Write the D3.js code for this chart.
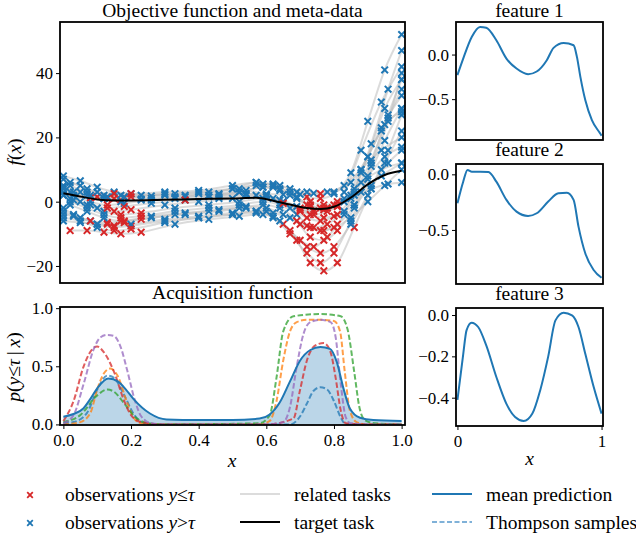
<!DOCTYPE html>
<html lang="en">
<head>
  <meta charset="UTF-8">
  <title>Objective function and meta-data</title>
  <script src="https://cdn.jsdelivr.net/npm/d3@7"></script>
  <style>
    body { margin: 0; background: #fff; }
    svg text { font-family: "Liberation Serif", "Times New Roman", serif; font-size: 19.5px; fill: #000; }
    svg .tick text { font-size: 17px; }
  </style>
</head>
<body>
<svg id="chart" width="636" height="534"></svg>
<script>
// ---- data ----
// observation x positions (three layouts shared by the related tasks)
const gridA = [0, 0.05, 0.1, 0.15, 0.2, 0.3, 0.4, 0.5, 0.57, 0.62, 0.67, 0.72, 0.76, 0.8, 0.85, 0.9, 0.95, 1.0];
const gridB = [0.02, 0.07, 0.12, 0.17, 0.23, 0.33, 0.43, 0.52, 0.59, 0.64, 0.69, 0.73, 0.77, 0.81, 0.86, 0.91, 0.96, 1.0];
const gridC = [0, 0.03, 0.08, 0.13, 0.18, 0.26, 0.36, 0.46, 0.54, 0.6, 0.65, 0.7, 0.74, 0.78, 0.83, 0.88, 0.94, 1.0];
const obsGrids = [gridA, gridB, gridC];

// related tasks: observed f(x) values on their grid
const relatedTasks = [
  [8, 6.5, 4.5, 3, 2.5, 2, 2.5, 4, 6, 5, 3, 1.5, 1, 2.5, 9, 25, 41, 52],
  [5, 3, 1, 0.5, 0.8, 1.5, 2, 3, 4.5, 3.5, 1, -1, -2, -1, 4, 18, 35, 47],
  [4, 2, 0, -1, -0.5, 0.5, 1.5, 2.5, 3.5, 2, 0, -2, -3, -2, 3, 16, 31, 42],
  [2, 0, -2, -3, -2.5, -1, 0, 1, 2, 1, -2, -5, -6, -4.5, 1, 14, 29, 38],
  [0, -2, -4, -5, -4.5, -3, -2, -1, 0, -1, -4, -8, -9, -7, -1, 12, 27, 38],
  [-2, -4, -6, -7, -6.5, -5, -4, -3, -2, -3, -7, -12, -14, -11, -4, 9, 23, 33],
  [-4, -5, -7, -8, -7.5, -6, -5, -4, -3, -5, -10, -16, -19, -16, -6, 7, 19, 29],
  [-9, -9, -9.5, -10, -9.5, -7, -5.5, -4.5, -4, -6, -12, -19, -21.5, -19, -8, 4, 16, 27],
  [3, 1.8, 1.2, 1.1, 1.3, 1.8, 2, 2.2, 2.5, 2.4, 2.2, 2.3, 2.6, 3, 5, 10, 16, 20],
  [5, 3, 1.5, 1, 1.5, 2.5, 3, 4, 5, 4.5, 2, -1, -2, -1, 2, 8, 14, 17],
  [1, -1, -3, -4, -3.5, -2, -1, 0, 1, 0.5, -1.5, -4, -5, -4, -1, 5, 12, 16],
  [-3, -4.5, -6, -6.5, -6, -4.5, -3.5, -2.5, -1.5, -2, -4, -7, -8, -7, -3, 3, 8, 12],
  [-6, -6.5, -7, -7.5, -7, -5.5, -4.5, -3.5, -3, -3.5, -5, -7.5, -9, -8, -5, 0, 5, 10],
  [6, 4, 2, 2, 2, 2.5, 3, 4, 5.5, 5, 3, 0, -1, 0, 2, 4, 5.5, 6],
  [2, 0.5, -1, -2, -1.5, -0.5, 0.5, 1.5, 2.5, 2, 0, -3, -4, -3, 0, 10, 22, 29],
  [7, 5, 3, 2.5, 2.5, 3, 3.5, 5, 6, 5.5, 4, 3, 2.5, 3, 6, 14, 24, 28],
  [-1, -3, -5, -6, -5.5, -4, -3, -2, -1, -2, -6, -11, -12, -9, -2, 11, 25, 40],
  [4.5, 3, 2, 1.5, 1.5, 1, 0.5, 1, 2, 1.5, -0.5, -2.5, -3, -2, 1, 6, 10, 12],
  [-5, -6, -8, -9, -8.5, -6.5, -5, -4, -3.5, -4.5, -9, -14, -16, -14, -7, 2, 12, 22],
  [3, 2, 1, 0, 0.5, 1, 1.5, 3, 4.5, 4, 1.5, -1.5, -2.5, -1.5, 3, 13, 26, 35]
];
const taskGridIndex = [0, 1, 2, 0, 1, 2, 0, 1, 2, 0, 1, 2, 0, 1, 2, 0, 1, 2, 0, 1];
const taskTau = [1.8, 0.6, -0.8, -2.2, -4.2, -6.2, -7.2, -8, 1.4, 1.5, -3.2, -5.8, -7.2, 1, -1.2, 2.6, -5.2, 0.8, -8.2, -0.2];

// target task
const targetX = [0, 0.05, 0.1, 0.15, 0.2, 0.3, 0.4, 0.5, 0.57, 0.62, 0.67, 0.72, 0.76, 0.8, 0.85, 0.9, 0.95, 1.0];
const targetY = [2.6, 1.6, 0.7, 0.4, 0.4, 0.6, 0.8, 1.0, 1.2, 0.3, -0.9, -2.0, -2.3, -1.6, 1.3, 5.4, 8.3, 9.6];

// acquisition function: mean prediction
const acqX = [0, 0.03, 0.059, 0.08, 0.1, 0.133, 0.163, 0.185, 0.207, 0.256, 0.305, 0.4, 0.5, 0.58, 0.61, 0.64, 0.67, 0.7, 0.73, 0.76, 0.788, 0.808, 0.828, 0.847, 0.877, 0.916, 1.0];
const acqMean = [0.066, 0.09, 0.137, 0.22, 0.31, 0.394, 0.366, 0.3, 0.22, 0.094, 0.043, 0.037, 0.037, 0.05, 0.085, 0.19, 0.37, 0.55, 0.64, 0.666, 0.65, 0.54, 0.31, 0.137, 0.057, 0.037, 0.03];

// Thompson samples
const tsBlueX = [0, 0.03, 0.07, 0.1, 0.13, 0.15, 0.18, 0.21, 0.24, 0.3, 0.6, 0.67, 0.7, 0.72, 0.74, 0.76, 0.78, 0.8, 0.82, 0.835, 0.9, 1];
const tsBlueY = [0.01, 0.02, 0.1, 0.3, 0.42, 0.4, 0.25, 0.08, 0.01, 0, 0, 0, 0.07, 0.18, 0.29, 0.32, 0.3, 0.2, 0.06, 0, 0, 0];
const tsOrangeX = [0, 0.05, 0.08, 0.1, 0.12, 0.138, 0.16, 0.187, 0.21, 0.23, 0.3, 0.58, 0.61, 0.63, 0.65, 0.67, 0.69, 0.72, 0.76, 0.8, 0.818, 0.832, 0.847, 0.867, 0.9, 1];
const tsOrangeY = [0, 0.02, 0.1, 0.3, 0.44, 0.48, 0.42, 0.2, 0.05, 0.01, 0, 0, 0.03, 0.2, 0.55, 0.8, 0.88, 0.9, 0.9, 0.89, 0.8, 0.45, 0.12, 0.02, 0, 0];
const tsGreenX = [0, 0.05, 0.1, 0.13, 0.15, 0.18, 0.21, 0.25, 0.3, 0.58, 0.61, 0.63, 0.65, 0.68, 0.76, 0.82, 0.84, 0.86, 0.875, 0.89, 0.92, 1];
const tsGreenY = [0.02, 0.08, 0.25, 0.3, 0.28, 0.18, 0.07, 0.01, 0, 0.01, 0.08, 0.4, 0.8, 0.93, 0.95, 0.93, 0.82, 0.45, 0.15, 0.04, 0.01, 0];
const tsRedX = [0, 0.03, 0.06, 0.09, 0.1, 0.12, 0.15, 0.18, 0.2, 0.23, 0.3, 0.6, 0.68, 0.7, 0.72, 0.745, 0.77, 0.79, 0.805, 0.82, 0.835, 0.9, 1];
const tsRedY = [0.03, 0.2, 0.5, 0.66, 0.67, 0.62, 0.45, 0.2, 0.08, 0.02, 0, 0, 0.05, 0.3, 0.55, 0.68, 0.7, 0.62, 0.4, 0.12, 0.01, 0, 0];
const tsPurpleX = [0, 0.03, 0.06, 0.09, 0.11, 0.13, 0.15, 0.17, 0.19, 0.21, 0.23, 0.26, 0.3, 0.6, 0.65, 0.67, 0.69, 0.71, 0.73, 0.76, 0.79, 0.805, 0.82, 0.835, 0.85, 0.9, 1];
const tsPurpleY = [0.01, 0.08, 0.35, 0.65, 0.75, 0.77, 0.76, 0.66, 0.45, 0.22, 0.07, 0.01, 0, 0, 0.02, 0.15, 0.5, 0.78, 0.88, 0.9, 0.88, 0.75, 0.35, 0.06, 0.01, 0, 0];

// meta-features
const feat1X = [0, 0.04, 0.1, 0.157, 0.2, 0.27, 0.34, 0.41, 0.49, 0.55, 0.62, 0.667, 0.737, 0.806, 0.829, 0.853, 0.887, 0.933, 0.99, 1.0];
const feat1Y = [-0.23, -0.045, 0.2, 0.31, 0.3, 0.16, -0.045, -0.157, -0.22, -0.19, -0.063, 0.075, 0.13, 0.104, -0.026, -0.25, -0.51, -0.735, -0.884, -0.91];
const feat2X = [0, 0.04, 0.07, 0.1, 0.157, 0.215, 0.27, 0.34, 0.41, 0.49, 0.55, 0.63, 0.7, 0.76, 0.806, 0.84, 0.887, 0.945, 1.0];
const feat2Y = [-0.26, -0.066, 0.04, 0.024, 0.024, 0.02, -0.066, -0.23, -0.335, -0.374, -0.35, -0.245, -0.17, -0.165, -0.23, -0.47, -0.71, -0.86, -0.93];
const feat3X = [0, 0.04, 0.063, 0.098, 0.144, 0.2, 0.27, 0.34, 0.4, 0.46, 0.52, 0.574, 0.63, 0.68, 0.737, 0.795, 0.84, 0.888, 0.946, 1.0];
const feat3Y = [-0.41, -0.19, -0.074, -0.037, -0.058, -0.147, -0.3, -0.43, -0.494, -0.513, -0.477, -0.365, -0.2, -0.026, 0.011, -0.002, -0.058, -0.19, -0.35, -0.477];

// ---- drawing ----
const RED = '#d62728', BLUE = '#1f77b4';
const svg = d3.select('#chart');
const xDomain = [-0.01, 1.01];
const fmt1 = d3.format('.1f');

function makePanel(id, left, top, width, height, yDomain) {
  let x = d3.scaleLinear().domain(xDomain).range([left, left + width]);
  let y = d3.scaleLinear().domain(yDomain).range([top + height, top]);
  svg.append('clipPath').attr('id', id)
    .append('rect').attr('x', left).attr('y', top).attr('width', width).attr('height', height);
  let g = svg.append('g').attr('clip-path', `url(#${id})`);
  return { x, y, g, left, top, width, height };
}

function frame(p) {
  svg.append('rect')
    .attr('x', p.left).attr('y', p.top)
    .attr('width', p.width).attr('height', p.height)
    .attr('fill', 'none').attr('stroke', '#000').attr('stroke-width', 1.8);
}

function yAxis(p, ticks, format) {
  let ax = svg.append('g')
    .attr('transform', `translate(${p.left},0)`)
    .call(d3.axisLeft(p.y).tickValues(ticks).tickSize(4).tickPadding(3).tickFormat(format));
  ax.select('.domain').remove();
  ax.attr('font-family', null).attr('font-size', null);
  ax.selectAll('line').attr('stroke-width', 1);
}

function xAxis(p, ticks, format) {
  let ax = svg.append('g')
    .attr('transform', `translate(0,${p.top + p.height})`)
    .call(d3.axisBottom(p.x).tickValues(ticks).tickSize(4).tickPadding(4).tickFormat(format));
  ax.select('.domain').remove();
  ax.attr('font-family', null).attr('font-size', null);
  ax.selectAll('line').attr('stroke-width', 1);
  ax.selectAll('text').attr('dy', '0.75em');
}

function title(p, txt, y) {
  svg.append('text')
    .attr('x', p.left + p.width / 2).attr('y', y)
    .attr('text-anchor', 'middle').text(txt);
}

const lineOf = (p) => d3.line().x(d => p.x(d[0])).y(d => p.y(d[1])).curve(d3.curveMonotoneX);
const pairs = (xs, ys) => xs.map((v, i) => [v, ys[i]]);

// main panel
let main = makePanel('clipMain', 60, 22, 345, 261, [-25.3, 55.9]);
let mainLine = lineOf(main);

relatedTasks.forEach((ys, t) => {
  let pts = pairs(obsGrids[taskGridIndex[t]], ys);
  main.g.append('path')
    .attr('d', mainLine(pts))
    .attr('fill', 'none')
    .attr('stroke', '#bdbdbd')
    .attr('stroke-opacity', 0.55)
    .attr('stroke-width', 2);
});
relatedTasks.forEach((ys, t) => {
  let pts = pairs(obsGrids[taskGridIndex[t]], ys);
  main.g.selectAll(null)
    .data(pts)
    .enter()
    .append('path')
    .attr('transform', d => `translate(${main.x(d[0])},${main.y(d[1])})`)
    .attr('d', 'M-3.3,-3.3L3.3,3.3M-3.3,3.3L3.3,-3.3')
    .attr('stroke', d => d[1] <= taskTau[t] ? RED : BLUE)
    .attr('stroke-width', 2);
});
main.g.append('path')
  .attr('d', mainLine(pairs(targetX, targetY)))
  .attr('fill', 'none').attr('stroke', '#000').attr('stroke-width', 2);
frame(main);
yAxis(main, [-20, 0, 20, 40], d3.format('d'));
title(main, 'Objective function and meta-data', 17);

let fLabel = svg.append('text')
  .attr('transform', 'translate(21,152) rotate(-90)')
  .attr('text-anchor', 'middle');
fLabel.append('tspan').attr('font-style', 'italic').text('f');
fLabel.append('tspan').text('(');
fLabel.append('tspan').attr('font-style', 'italic').text('x');
fLabel.append('tspan').text(')');

// acquisition panel
let acq = makePanel('clipAcq', 60, 307, 345, 118, [-0.005, 1.01]);
let acqLine = lineOf(acq);
let acqArea = d3.area()
  .x(d => acq.x(d[0])).y0(acq.y(0)).y1(d => acq.y(d[1]))
  .curve(d3.curveMonotoneX);

acq.g.append('path')
  .attr('d', acqArea(pairs(acqX, acqMean)))
  .attr('fill', BLUE).attr('fill-opacity', 0.3);

const samples = [
  [tsBlueX, tsBlueY, BLUE],
  [tsOrangeX, tsOrangeY, '#ff7f0e'],
  [tsGreenX, tsGreenY, '#2ca02c'],
  [tsRedX, tsRedY, RED],
  [tsPurpleX, tsPurpleY, '#9467bd']
];
samples.forEach(s => {
  acq.g.append('path')
    .attr('d', acqLine(pairs(s[0], s[1])))
    .attr('fill', 'none')
    .attr('stroke', s[2])
    .attr('stroke-opacity', 0.75)
    .attr('stroke-width', 2)
    .attr('stroke-dasharray', '5.5,2.5');
});
acq.g.append('path')
  .attr('d', acqLine(pairs(acqX, acqMean)))
  .attr('fill', 'none').attr('stroke', BLUE).attr('stroke-width', 2);
frame(acq);
yAxis(acq, [0, 0.5, 1.0], fmt1);
xAxis(acq, [0, 0.2, 0.4, 0.6, 0.8, 1.0], fmt1);
title(acq, 'Acquisition function', 299);

let pLabel = svg.append('text')
  .attr('transform', 'translate(20,367) rotate(-90)')
  .attr('text-anchor', 'middle');
pLabel.append('tspan').attr('font-style', 'italic').text('p');
pLabel.append('tspan').text('(');
pLabel.append('tspan').attr('font-style', 'italic').text('y');
pLabel.append('tspan').text('\u2264');
pLabel.append('tspan').attr('font-style', 'italic').text('\u03c4');
pLabel.append('tspan').text('\u2009|\u2009');
pLabel.append('tspan').attr('font-style', 'italic').text('x');
pLabel.append('tspan').text(')');

svg.append('text')
  .attr('x', 232).attr('y', 467)
  .attr('text-anchor', 'middle').attr('font-style', 'italic').text('x');

// feature panels
const featPanels = [
  ['clipF1', 22, 118, [-0.958, 0.365], feat1X, feat1Y, [0, -0.5], 'feature 1', 17],
  ['clipF2', 164, 120, [-0.986, 0.093], feat2X, feat2Y, [0, -0.5], 'feature 2', 156],
  ['clipF3', 308, 118, [-0.537, 0.034], feat3X, feat3Y, [0, -0.2, -0.4], 'feature 3', 300]
];
featPanels.forEach((f, i) => {
  let p = makePanel(f[0], 456, f[1], 147, f[2], f[3]);
  p.g.append('path')
    .attr('d', lineOf(p)(pairs(f[4], f[5])))
    .attr('fill', 'none').attr('stroke', BLUE).attr('stroke-width', 2);
  frame(p);
  yAxis(p, f[6], fmt1);
  title(p, f[7], f[8]);
  if (i === 2) {
    xAxis(p, [0, 1], d3.format('d'));
    svg.append('text')
      .attr('x', p.left + p.width / 2).attr('y', 465)
      .attr('text-anchor', 'middle').attr('font-style', 'italic').text('x');
  }
});

// legend
let leg = svg.append('g');
const markerPath = 'M-2.8,-2.8L2.8,2.8M-2.8,2.8L2.8,-2.8';
[[495, RED, '\u2264'], [523, BLUE, '>']].forEach(r => {
  leg.append('path')
    .attr('transform', `translate(30,${r[0]})`)
    .attr('d', markerPath).attr('stroke', r[1]).attr('stroke-width', 1.8);
  let t = leg.append('text').attr('x', 65).attr('y', r[0] + 5.5);
  t.append('tspan').text('observations ');
  t.append('tspan').attr('font-style', 'italic').text('y');
  t.append('tspan').text(r[2]);
  t.append('tspan').attr('font-style', 'italic').text('\u03c4');
});
const lineItems = [
  [240, 494, '#dcdcdc', null, 'related tasks'],
  [240, 522, '#000', null, 'target task'],
  [432, 494, BLUE, null, 'mean prediction'],
  [432, 522, '#7fb1d8', '5,2.5', 'Thompson samples']
];
lineItems.forEach(l => {
  leg.append('line')
    .attr('x1', l[0]).attr('x2', l[0] + 40)
    .attr('y1', l[1]).attr('y2', l[1])
    .attr('stroke', l[2]).attr('stroke-width', 2)
    .attr('stroke-dasharray', l[3]);
  leg.append('text').attr('x', l[0] + 54).attr('y', l[1] + 6.5).text(l[4]);
});
</script>
</body>
</html>
